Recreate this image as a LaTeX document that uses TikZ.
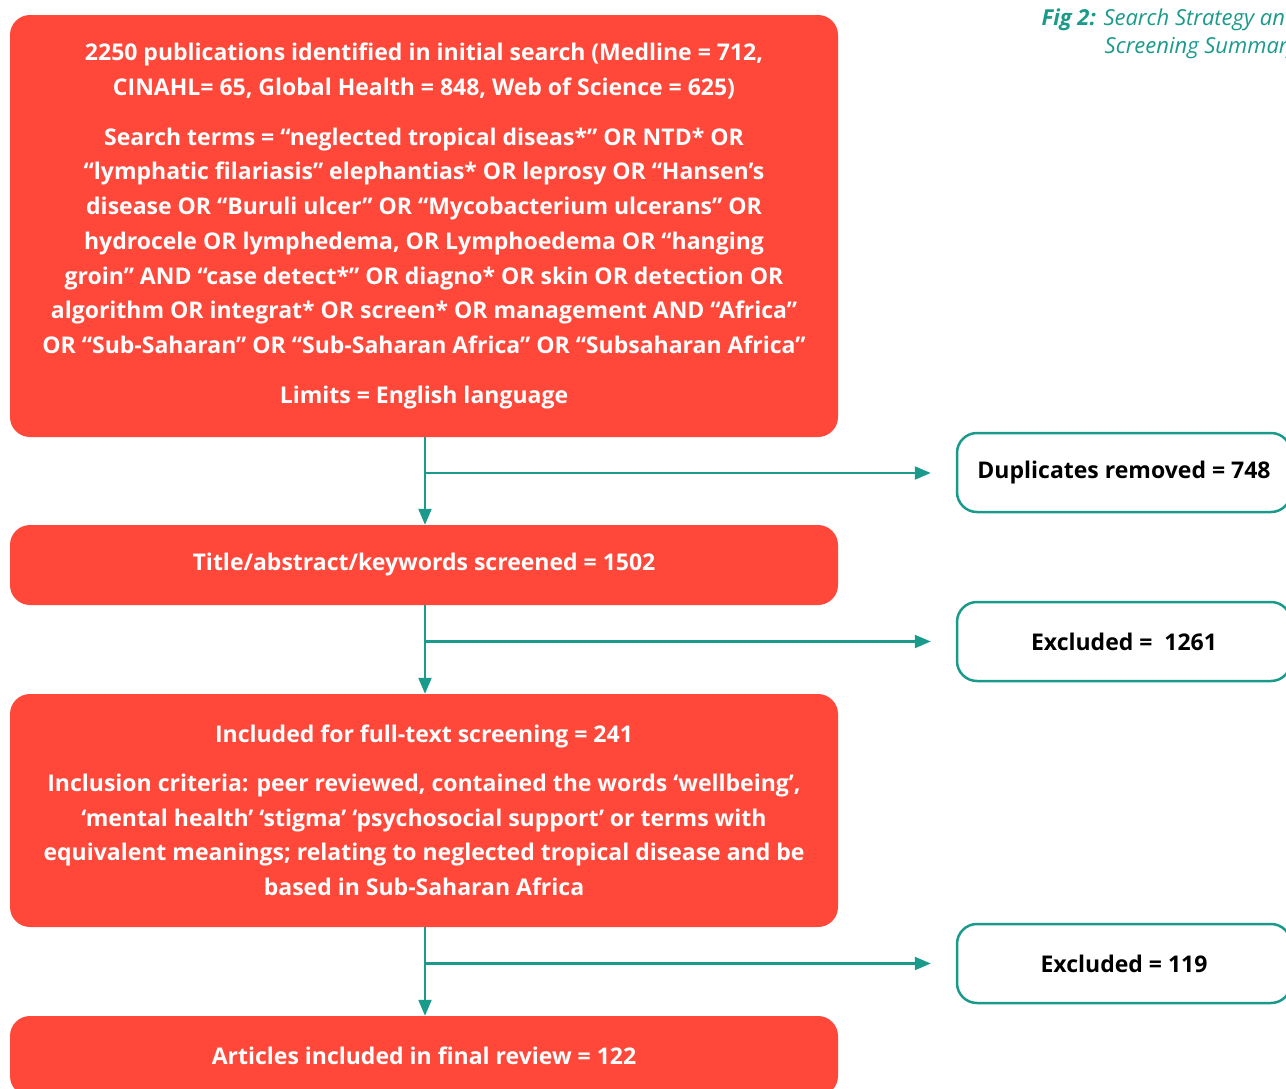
\documentclass[tikz,border=0pt]{standalone}
\usepackage{fontspec}
\setmainfont{Open Sans}
\usetikzlibrary{arrows.meta}
\definecolor{boxred}{HTML}{FF473A}
\definecolor{teal}{HTML}{1A9A8A}
\begin{document}
\begin{tikzpicture}[x=1pt,y=-1pt,
  redbox/.style={fill=boxred, rounded corners=20pt, minimum width=828pt, text=white, align=center,
    font=\fontsize{23}{34.7}\selectfont\bfseries, inner sep=0pt},
  sidebox/.style={draw=teal, line width=2.5pt, fill=white, rounded corners=20pt, minimum width=334pt,
    minimum height=79pt, text=black, align=center, font=\fontsize{23}{34.7}\selectfont\bfseries, inner sep=0pt},
  flow/.style={draw=teal, line width=2.2pt, -{Triangle[length=16pt,width=13pt]}},
  side/.style={flow, shorten >=25pt}
]
\clip (0,0) rectangle (1286,1088);
\useasboundingbox (0,0) rectangle (1286,1088);

\node[redbox, minimum height=422pt] (b1) at (424,226) {%
2250 publications identified in initial search (Medline = 712,\\
CINAHL= 65, Global Health = 848, Web of Science = 625)\\[15pt]
Search terms = “neglected tropical diseas*” OR NTD* OR\\
“lymphatic filariasis” elephantias* OR leprosy OR “Hansen’s\\
disease OR “Buruli ulcer” OR “Mycobacterium ulcerans” OR\\
hydrocele OR lymphedema, OR Lymphoedema OR “hanging\\
groin” AND “case detect*” OR diagno* OR skin OR detection OR\\
algorithm OR integrat* OR screen* OR management AND “Africa”\\
OR “Sub-Saharan” OR “Sub-Saharan Africa” OR “Subsaharan Africa”\\[15pt]
Limits = English language};

\node[redbox, minimum height=80pt] (b2) at (424,565) {Title/abstract/keywords screened = 1502};

\node[redbox, minimum height=233pt] (b3) at (424,810.5) {%
Included for full-text screening = 241\\[14pt]
Inclusion criteria: peer reviewed, contained the words ‘wellbeing’,\\
‘mental health’ ‘stigma’ ‘psychosocial support’ or terms with\\
equivalent meanings; relating to neglected tropical disease and be\\
based in Sub-Saharan Africa};

\node[redbox, minimum height=80pt] (b4) at (424,1056) {Articles included in final review = 122};

\node[sidebox] (s1) at (1124,472.5) {Duplicates removed = 748};
\node[sidebox] (s2) at (1124,641.5) {Excluded = \ 1261};
\node[sidebox] (s3) at (1124,963.5) {Excluded = 119};

\coordinate (j1) at (425,473);
\coordinate (j2) at (425,641.5);
\coordinate (j3) at (425,963.5);

\draw[flow] (b1.south -| j1) -- (b2.north -| j1);
\draw[flow] (b2.south -| j2) -- (b3.north -| j2);
\draw[flow] (b3.south -| j3) -- (b4.north -| j3);
\draw[side] (j1) -- (s1.west |- j1);
\draw[side] (j2) -- (s2.west |- j2);
\draw[side] (j3) -- (s3.west |- j3);

\node[anchor=north east, align=right, text=teal, inner sep=0pt,
  font=\fontsize{22}{27.5}\selectfont\itshape] (cap) at (1298,9)
  {\textbf{Fig 2:} Search Strategy and\\ Screening Summary};
\end{tikzpicture}
\end{document}
